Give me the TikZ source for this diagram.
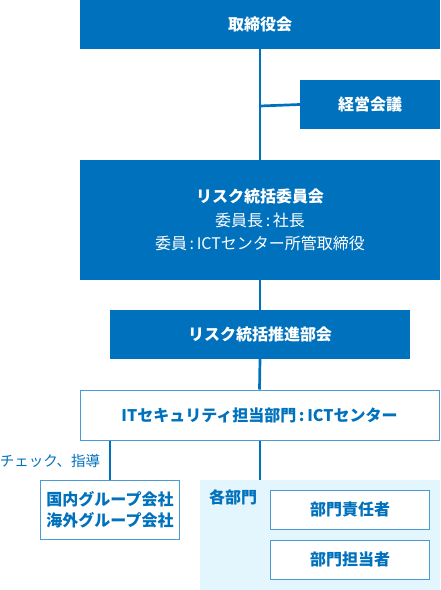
\documentclass[tikz,border=0pt]{standalone}
\usepackage{fontspec}
\setmainfont{Noto Sans CJK JP}
\definecolor{orgblue}{HTML}{0071BC}
\definecolor{lineblue}{HTML}{4A9AD4}
\definecolor{paleblue}{HTML}{E3F5FD}
\begin{document}
\begin{tikzpicture}[x=1pt, y=1pt,
  solidbox/.style={fill=orgblue, text=white, inner sep=0pt, font=\fontsize{16}{21}\selectfont\bfseries, align=center},
  openbox/.style={fill=white, draw=lineblue, line width=1pt, text=orgblue, inner sep=0pt, font=\fontsize{16}{21}\selectfont\bfseries, align=center},
  link/.style={orgblue, line width=2.7pt}]
  \useasboundingbox (0,0) rectangle (440,-590);

  \fill[paleblue] (200,-480) rectangle (440,-590);
  \coordinate (depttop) at (260,-480);
  \coordinate (mgmtjoin) at (260,-106);

  \node[solidbox, minimum width=360, minimum height=49] (board) at (260,-24.5) {取締役会};
  \node[solidbox, minimum width=140, minimum height=49] (mgmt) at (370,-104.5) {経営会議};
  \node[solidbox, minimum width=360, minimum height=120, font=\fontsize{16}{23.5}\selectfont] (riskcom) at (260,-220)
    {\textbf{リスク統括委員会}\\委員長\,:\,社長\\委員\,:\,ICTセンター所管取締役};
  \node[solidbox, minimum width=300, minimum height=49] (riskpro) at (260,-334.5) {リスク統括推進部会};
  \node[openbox, minimum width=359, minimum height=50] (itsec) at (259.5,-415) {ITセキュリティ担当部門\,:\,ICTセンター};
  \node[openbox, minimum width=139, minimum height=59] (group) at (110,-510) {国内グループ会社\\海外グループ会社};
  \node[text=orgblue, font=\fontsize{16}{21}\selectfont\bfseries, inner sep=0pt] (dept) at (233,-497) {各部門};
  \node[openbox, minimum width=159, minimum height=39] (leader) at (350,-509.5) {部門責任者};
  \node[openbox, minimum width=159, minimum height=39] (staff) at (350,-559.5) {部門担当者};
  \node[text=orgblue, font=\fontsize{14.5}{18}\selectfont, inner sep=0pt] (check) at (50,-461) {チェック、指導};

  \draw[link] (board.south) -- (riskcom.north);
  \draw[link] (mgmtjoin) -- (mgmt.west);
  \draw[link] (riskcom.south) -- (riskpro.north);
  \draw[link] (riskpro.south) -- (itsec.north);
  \draw[link] (itsec.south -| depttop) -- (depttop);
  \draw[link] (itsec.south -| group.north) -- (group.north);
\end{tikzpicture}
\end{document}
